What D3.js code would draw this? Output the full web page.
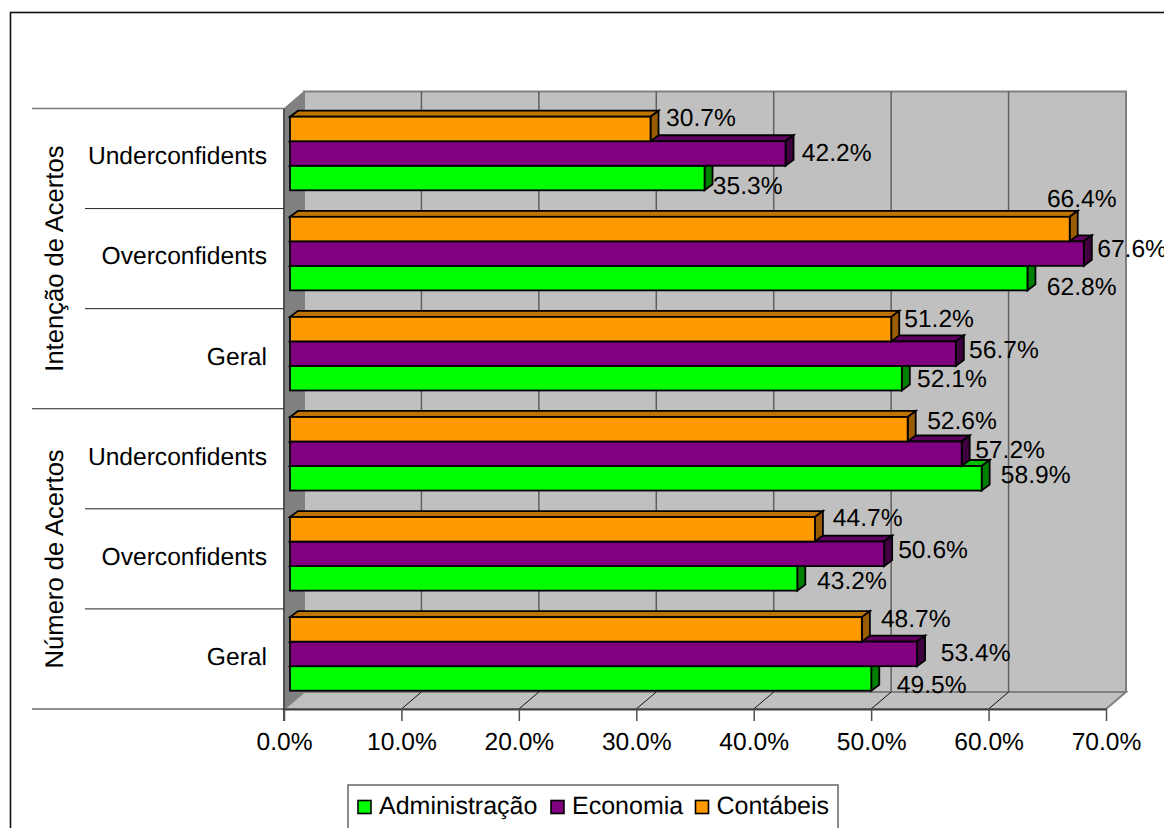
<!DOCTYPE html>
<html>
<head>
<meta charset="utf-8">
<script src="https://cdn.jsdelivr.net/npm/d3@7"></script>
<style>
html,body{margin:0;padding:0;background:#fff;overflow:hidden}
svg{display:block}
text{font-family:"Liberation Sans",Arial,sans-serif;fill:#000;text-rendering:geometricPrecision}
</style>
</head>
<body>
<div id="chart"></div>
<script>
// ---- data ----
const groups = ["Intenção de Acertos", "Número de Acertos"];
const categories = ["Underconfidents", "Overconfidents", "Geral"];
const seriesNames = ["Administração", "Economia", "Contábeis"];
const administracao = [35.3, 62.8, 52.1, 58.9, 43.2, 49.5];
const economia      = [42.2, 67.6, 56.7, 57.2, 50.6, 53.4];
const contabeis     = [30.7, 66.4, 51.2, 52.6, 44.7, 48.7];
const axisTicks = [0, 10, 20, 30, 40, 50, 60, 70];

// ---- layout ----
const W = 1164, H = 828, FS = 24.6, FS_GROUP = 25.6, FS_LEGEND = 25;
const seriesValues = [administracao, economia, contabeis];
const fills = ["#00ff00", "#800080", "#ff9900"];
const tops  = ["#00bf00", "#600060", "#bf7300"];
const sides = ["#008000", "#400040", "#995c00"];
const wall = {dx: 20, dy: 17}, bar = {dx: 8, dy: 6, start: 6};
const plotTop = 108.5, plotBottom = 709;

// hand-placed data label offsets (bar tip -> label), as in the original chart
const labelNudge = [
  [[8.3, 7.5], [19.4, 8], [15.3, 0], [19.2, -4], [19.8, 2], [25.6, 6]],
  [[16.3, -1], [13.4, -5], [13.3, -5], [13.5, -5], [14, -5], [23.7, -1.5]],
  [[15.6, -12], [-22.8, -31], [13, -11], [19.5, -8.6], [17.9, -12], [19, -11.5]]
];

const rows = groups.flatMap((g, gi) => categories.map((c, ci) => ({g, c, id: gi * 3 + ci})));

const x = d3.scaleLinear().domain([0, 70]).range([284, 1106]);
const y = d3.scaleBand().domain(rows.map(r => r.id)).range([plotTop, plotBottom]);
// inner scale: drawn top-to-bottom Contábeis, Economia, Administração
const inner = d3.scaleBand().domain([2, 1, 0]).range([8.2, 81.8]);

const svg = d3.select("#chart").append("svg").attr("width", W).attr("height", H);

// outer frame (runs off the page on right and bottom)
svg.append("rect").attr("x", 10.5).attr("y", 12.5).attr("width", W + 20).attr("height", H + 20)
  .attr("fill", "#fff").attr("stroke", "#111").attr("stroke-width", 1.6);

const x0 = x(0), x1 = x(70), t = plotTop, b = plotBottom, dx = wall.dx, dy = wall.dy;
const poly = pts => pts.map(p => p.join(",")).join(" ");

// walls
svg.append("polygon").attr("points", poly([[x0 + dx, t - dy], [x1 + dx, t - dy], [x1 + dx, b - dy], [x0 + dx, b - dy]]))
  .attr("fill", "#c0c0c0").attr("stroke", "#808080").attr("stroke-width", 2);
svg.append("polygon").attr("points", poly([[x0, b], [x0 + dx, b - dy], [x1 + dx, b - dy], [x1, b]]))
  .attr("fill", "#c0c0c0").attr("stroke", "#808080").attr("stroke-width", 2);
svg.append("polygon").attr("points", poly([[x0, t], [x0 + dx, t - dy], [x0 + dx, b - dy], [x0, b]]))
  .attr("fill", "#808080").attr("stroke", "#808080").attr("stroke-width", 1);

// gridlines on back wall and floor
const gridTicks = axisTicks.slice(1, -1);
svg.append("g").selectAll("line").data(gridTicks).join("line")
  .attr("x1", d => x(d) + dx).attr("x2", d => x(d) + dx)
  .attr("y1", t - dy).attr("y2", b - dy)
  .attr("stroke", "#606060").attr("stroke-width", 1.5);
svg.append("g").selectAll("line").data(gridTicks).join("line")
  .attr("x1", d => x(d) + dx).attr("x2", d => x(d))
  .attr("y1", b - dy).attr("y2", b)
  .attr("stroke", "#111").attr("stroke-width", 1);

// bars: Administração first so later series overlap its depth faces
seriesValues.forEach((vals, si) => {
  const g = svg.append("g").attr("class", "series-" + si);
  const sel = g.selectAll("g").data(rows).join("g");
  const X = r => x(vals[r.id]) + bar.start;
  const L = x(0) + bar.start;
  const Y = r => y(r.id) + inner(si);
  const h = inner.bandwidth();
  const common = s => s.attr("stroke", "#000").attr("stroke-width", 1.8).attr("stroke-linejoin", "miter");
  sel.append("polygon").attr("points", r => poly([[L, Y(r)], [L + bar.dx, Y(r) - bar.dy], [X(r) + bar.dx, Y(r) - bar.dy], [X(r), Y(r)]]))
    .attr("fill", tops[si]).call(common);
  sel.append("polygon").attr("points", r => poly([[X(r), Y(r)], [X(r) + bar.dx, Y(r) - bar.dy], [X(r) + bar.dx, Y(r) + h - bar.dy], [X(r), Y(r) + h]]))
    .attr("fill", sides[si]).call(common);
  sel.append("rect").attr("x", L).attr("y", Y).attr("width", r => X(r) - L).attr("height", h)
    .attr("fill", fills[si]).call(common);
});

// data labels
seriesValues.forEach((vals, si) => {
  svg.append("g").selectAll("text").data(rows).join("text")
    .attr("x", r => x(vals[r.id]) + bar.start + labelNudge[si][r.id][0])
    .attr("y", r => y(r.id) + inner(si) + inner.bandwidth() / 2 + labelNudge[si][r.id][1])
    .attr("dy", "0.36em").attr("font-size", FS).attr("fill", "#111")
    .text(r => d3.format(".1f")(vals[r.id]) + "%");
});

// value axis
const ax = svg.append("g").attr("transform", `translate(0,${b})`)
  .call(d3.axisBottom(x).tickValues(axisTicks).tickSize(12).tickSizeOuter(0).tickPadding(0)
    .tickFormat(d => d3.format(".1f")(d) + "%"));
ax.select(".domain").attr("stroke", "#404040").attr("stroke-width", 2);
ax.selectAll(".tick line").attr("stroke", "#505050").attr("stroke-width", 1.5);
ax.selectAll(".tick text").attr("y", 32).attr("dy", "0.36em").attr("font-size", FS)
  .attr("font-family", '"Liberation Sans",Arial,sans-serif').attr("fill", "#111");

// left spine
svg.append("line").attr("x1", x0).attr("x2", x0).attr("y1", t).attr("y2", b + 12)
  .attr("stroke", "#505050").attr("stroke-width", 2);

// category axis: separators, labels and rotated group labels
const edges = rows.map(r => y(r.id)).concat([plotBottom]);
svg.append("g").selectAll("line").data(edges).join("line")
  .attr("x1", (d, i) => i % 3 === 0 ? 32 : 85).attr("x2", x0)
  .attr("y1", d => d).attr("y2", d => d)
  .attr("stroke", (d, i) => i === 0 ? "#777" : "#222")
  .attr("stroke-width", (d, i) => i === 0 ? 1.6 : 1);
svg.append("g").selectAll("text").data(rows).join("text")
  .attr("x", 267).attr("y", r => y(r.id) + y.bandwidth() / 2 - 3)
  .attr("dy", "0.36em").attr("text-anchor", "end").attr("font-size", FS).attr("fill", "#111")
  .text(r => r.c);
svg.append("g").selectAll("text").data(groups).join("text")
  .attr("transform", (d, i) => `translate(54,${y(i * 3) + y.bandwidth() * 1.5}) rotate(-90)`)
  .attr("dy", "0.36em").attr("text-anchor", "middle").attr("font-size", FS_GROUP).attr("fill", "#111")
  .text(d => d);

// legend
const lg = svg.append("g");
lg.append("rect").attr("x", 348).attr("y", 785).attr("width", 490).attr("height", 60)
  .attr("fill", "#fff").attr("stroke", "#666").attr("stroke-width", 1.5);
const swatchX = d3.scaleOrdinal().domain(seriesNames).range([358, 551, 695.5]);
const items = lg.selectAll("g").data(seriesNames).join("g");
items.append("rect").attr("x", d => swatchX(d)).attr("y", 800.5).attr("width", 13).attr("height", 13)
  .attr("fill", (d, i) => fills[i]).attr("stroke", "#000").attr("stroke-width", 1.6);
items.append("text").attr("x", d => swatchX(d) + 21).attr("y", 805).attr("dy", "0.36em")
  .attr("font-size", FS_LEGEND).text(d => d);
</script>
</body>
</html>
